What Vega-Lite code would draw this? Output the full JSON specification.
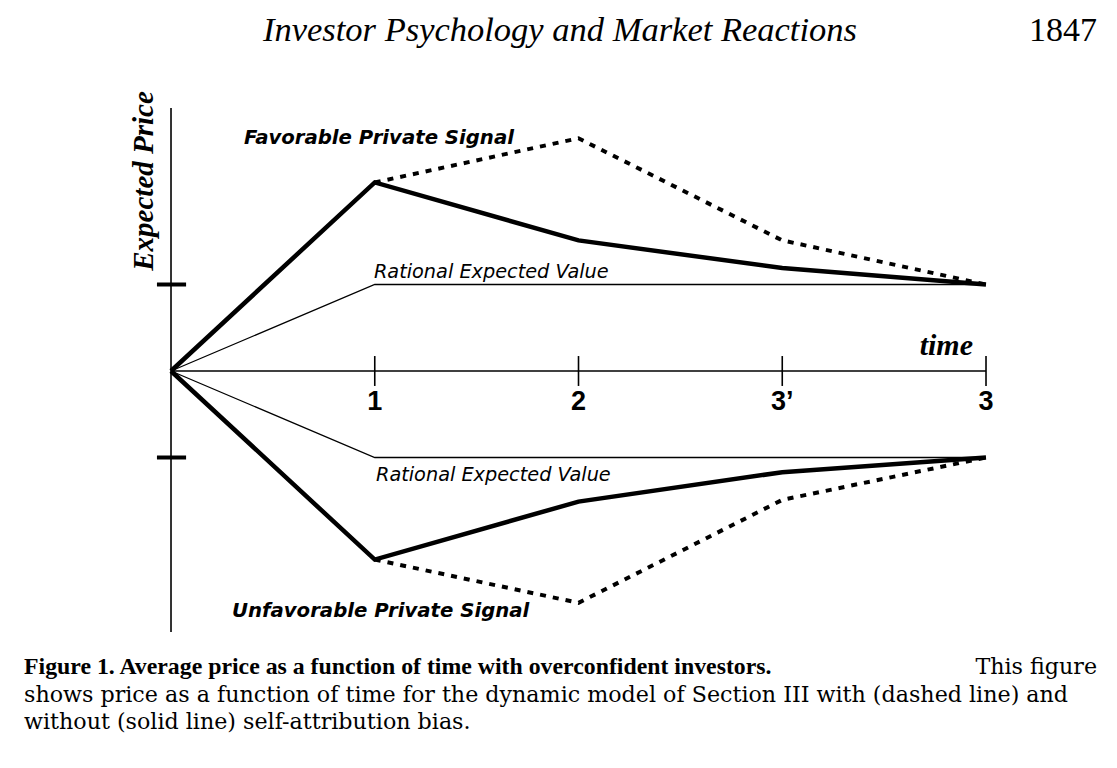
{
  "$schema": "https://vega.github.io/schema/vega-lite/v6.json",
  "width": 1117,
  "height": 768,
  "autosize": {"type": "fit", "contains": "padding"},
  "padding": 0,
  "background": "white",
  "config": {"view": {"stroke": null}},
  "datasets": {
    "paths": [
      {"signal": "Favorable", "model": "Without bias", "time": 0, "price": 0},
      {"signal": "Favorable", "model": "Without bias", "time": 1, "price": 2.18},
      {"signal": "Favorable", "model": "Without bias", "time": 2, "price": 1.51},
      {"signal": "Favorable", "model": "Without bias", "time": 3, "price": 1.19},
      {"signal": "Favorable", "model": "Without bias", "time": 4, "price": 1.0},
      {"signal": "Favorable", "model": "With bias", "time": 1, "price": 2.18},
      {"signal": "Favorable", "model": "With bias", "time": 2, "price": 2.69},
      {"signal": "Favorable", "model": "With bias", "time": 3, "price": 1.51},
      {"signal": "Favorable", "model": "With bias", "time": 4, "price": 1.0},
      {"signal": "Favorable", "model": "Rational", "time": 0, "price": 0},
      {"signal": "Favorable", "model": "Rational", "time": 1, "price": 1.0},
      {"signal": "Favorable", "model": "Rational", "time": 4, "price": 1.0},
      {"signal": "Unfavorable", "model": "Without bias", "time": 0, "price": 0},
      {"signal": "Unfavorable", "model": "Without bias", "time": 1, "price": -2.18},
      {"signal": "Unfavorable", "model": "Without bias", "time": 2, "price": -1.51},
      {"signal": "Unfavorable", "model": "Without bias", "time": 3, "price": -1.17},
      {"signal": "Unfavorable", "model": "Without bias", "time": 4, "price": -1.0},
      {"signal": "Unfavorable", "model": "With bias", "time": 1, "price": -2.18},
      {"signal": "Unfavorable", "model": "With bias", "time": 2, "price": -2.68},
      {"signal": "Unfavorable", "model": "With bias", "time": 3, "price": -1.49},
      {"signal": "Unfavorable", "model": "With bias", "time": 4, "price": -1.0},
      {"signal": "Unfavorable", "model": "Rational", "time": 0, "price": 0},
      {"signal": "Unfavorable", "model": "Rational", "time": 1, "price": -1.0},
      {"signal": "Unfavorable", "model": "Rational", "time": 4, "price": -1.0}
    ],
    "frame": [
      {"part": "price axis", "time": 0, "time2": 0, "price": 3.04, "price2": -3.017},
      {"part": "time axis", "time": 0, "time2": 4, "price": 0, "price2": 0},
      {"part": "time tick", "time": 1, "time2": 1, "price": 0.173, "price2": -0.173},
      {"part": "time tick", "time": 2, "time2": 2, "price": 0.173, "price2": -0.173},
      {"part": "time tick", "time": 3, "time2": 3, "price": 0.173, "price2": -0.173},
      {"part": "time tick", "time": 4, "time2": 4, "price": 0.173, "price2": -0.173}
    ],
    "priceTicks": [
      {"time": -0.069, "time2": 0.074, "price": 1.0},
      {"time": -0.069, "time2": 0.074, "price": -1.0}
    ],
    "labels": [
      {"kind": "header", "text": "Investor Psychology and Market Reactions", "time": 1.909, "price": 3.931},
      {"kind": "page", "text": "1847", "time": 4.545, "price": 3.931},
      {"kind": "ytitle", "text": "Expected Price", "time": -0.1325, "price": 2.197},
      {"kind": "xtitle", "text": "time", "time": 3.936, "price": 0.289},
      {"kind": "signal", "text": "Favorable Private Signal", "time": 0.358, "price": 2.694},
      {"kind": "signal", "text": "Unfavorable Private Signal", "time": 0.299, "price": -2.775},
      {"kind": "rational", "text": "Rational Expected Value", "time": 0.996, "price": 1.145},
      {"kind": "rational", "text": "Rational Expected Value", "time": 1.006, "price": -1.202},
      {"kind": "tick", "text": "1", "time": 1, "price": -0.358},
      {"kind": "tick", "text": "2", "time": 2, "price": -0.358},
      {"kind": "tick", "text": "3’", "time": 3, "price": -0.358},
      {"kind": "tick", "text": "3", "time": 4, "price": -0.358},
      {"kind": "captionBold", "text": "Figure 1. Average price as a function of time with overconfident investors.", "time": -0.7215, "price": -3.422},
      {"kind": "captionRight", "text": "This figure", "time": 4.545, "price": -3.422},
      {"kind": "caption", "text": "shows price as a function of time for the dynamic model of Section III with (dashed line) and", "time": -0.7215, "price": -3.746},
      {"kind": "caption", "text": "without (solid line) self-attribution bias.", "time": -0.7215, "price": -4.058}
    ]
  },
  "encoding": {
    "x": {"field": "time", "type": "quantitative", "scale": {"domain": [-0.8393, 4.6429], "nice": false, "zero": false}, "axis": null},
    "y": {"field": "price", "type": "quantitative", "scale": {"domain": [-4.5896, 4.289], "nice": false, "zero": false}, "axis": null}
  },
  "layer": [
    {
      "data": {"name": "frame"},
      "mark": {"type": "rule", "color": "black", "strokeWidth": 1.6},
      "encoding": {"x2": {"field": "time2"}, "y2": {"field": "price2"}}
    },
    {
      "data": {"name": "priceTicks"},
      "mark": {"type": "rule", "color": "black", "strokeWidth": 4},
      "encoding": {"x2": {"field": "time2"}}
    },
    {
      "data": {"name": "paths"},
      "transform": [{"filter": "datum.model == 'Rational'"}],
      "mark": {"type": "line", "color": "black", "strokeWidth": 1.3},
      "encoding": {"detail": {"field": "signal"}}
    },
    {
      "data": {"name": "paths"},
      "transform": [{"filter": "datum.model == 'With bias'"}],
      "mark": {"type": "line", "color": "black", "strokeWidth": 4, "strokeDash": [6, 7]},
      "encoding": {"detail": {"field": "signal"}}
    },
    {
      "data": {"name": "paths"},
      "transform": [{"filter": "datum.model == 'Without bias'"}],
      "mark": {"type": "line", "color": "black", "strokeWidth": 4.5},
      "encoding": {"detail": {"field": "signal"}}
    },
    {
      "data": {"name": "labels"},
      "transform": [{"filter": "datum.kind == 'header'"}],
      "mark": {"type": "text", "font": "Liberation Serif", "fontStyle": "italic", "fontSize": 34.5, "align": "center", "baseline": "middle", "color": "black"},
      "encoding": {"text": {"field": "text"}}
    },
    {
      "data": {"name": "labels"},
      "transform": [{"filter": "datum.kind == 'page'"}],
      "mark": {"type": "text", "font": "Liberation Serif", "fontSize": 34, "align": "right", "baseline": "middle", "color": "black"},
      "encoding": {"text": {"field": "text"}}
    },
    {
      "data": {"name": "labels"},
      "transform": [{"filter": "datum.kind == 'ytitle'"}],
      "mark": {"type": "text", "font": "Liberation Serif", "fontStyle": "italic", "fontWeight": "bold", "fontSize": 29, "angle": 270, "align": "center", "baseline": "middle", "color": "black"},
      "encoding": {"text": {"field": "text"}}
    },
    {
      "data": {"name": "labels"},
      "transform": [{"filter": "datum.kind == 'xtitle'"}],
      "mark": {"type": "text", "font": "Liberation Serif", "fontStyle": "italic", "fontWeight": "bold", "fontSize": 30, "align": "right", "baseline": "middle", "color": "black"},
      "encoding": {"text": {"field": "text"}}
    },
    {
      "data": {"name": "labels"},
      "transform": [{"filter": "datum.kind == 'signal'"}],
      "mark": {"type": "text", "font": "DejaVu Sans", "fontStyle": "italic", "fontWeight": "bold", "fontSize": 19.7, "align": "left", "baseline": "middle", "color": "black"},
      "encoding": {"text": {"field": "text"}}
    },
    {
      "data": {"name": "labels"},
      "transform": [{"filter": "datum.kind == 'rational'"}],
      "mark": {"type": "text", "font": "DejaVu Sans", "fontStyle": "italic", "fontSize": 19.3, "align": "left", "baseline": "middle", "color": "black"},
      "encoding": {"text": {"field": "text"}}
    },
    {
      "data": {"name": "labels"},
      "transform": [{"filter": "datum.kind == 'tick'"}],
      "mark": {"type": "text", "font": "Liberation Sans", "fontWeight": "bold", "fontSize": 27, "align": "center", "baseline": "middle", "color": "black"},
      "encoding": {"text": {"field": "text"}}
    },
    {
      "data": {"name": "labels"},
      "transform": [{"filter": "datum.kind == 'captionBold'"}],
      "mark": {"type": "text", "font": "Liberation Serif", "fontWeight": "bold", "fontSize": 23.8, "align": "left", "baseline": "middle", "color": "black"},
      "encoding": {"text": {"field": "text"}}
    },
    {
      "data": {"name": "labels"},
      "transform": [{"filter": "datum.kind == 'captionRight'"}],
      "mark": {"type": "text", "font": "DejaVu Serif", "fontSize": 22.2, "align": "right", "baseline": "middle", "color": "black"},
      "encoding": {"text": {"field": "text"}}
    },
    {
      "data": {"name": "labels"},
      "transform": [{"filter": "datum.kind == 'caption'"}],
      "mark": {"type": "text", "font": "DejaVu Serif", "fontSize": 22.2, "align": "left", "baseline": "middle", "color": "black"},
      "encoding": {"text": {"field": "text"}}
    }
  ]
}
